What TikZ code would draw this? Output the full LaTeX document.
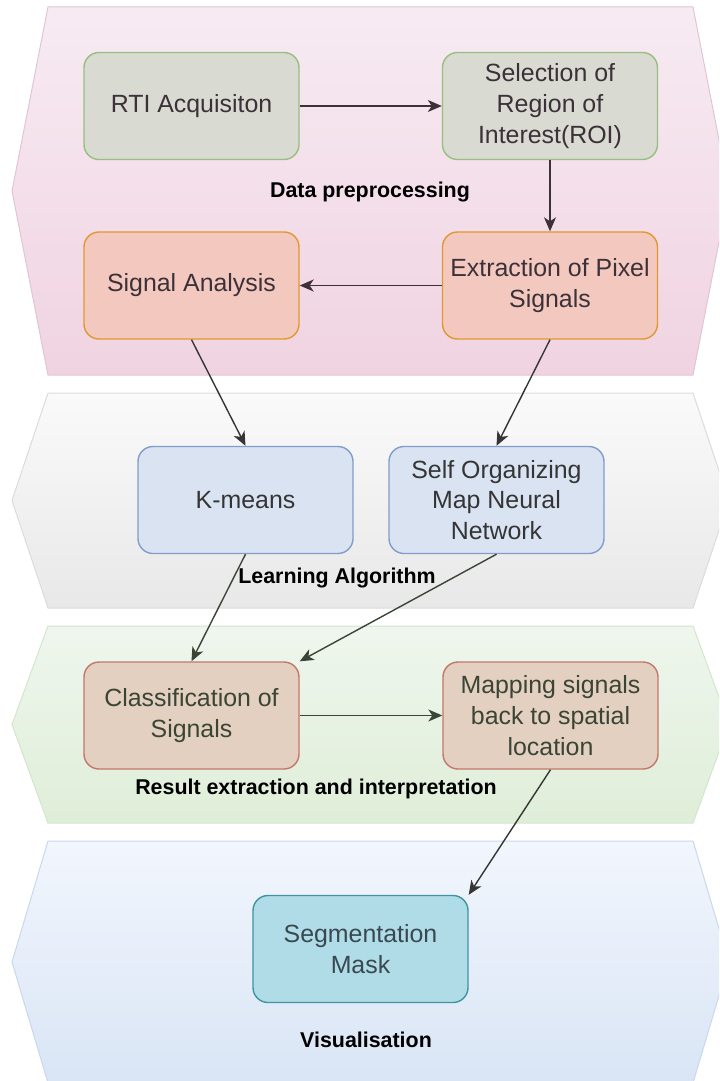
\documentclass[tikz,border=0pt]{standalone}
\usepackage{fontspec}
\setmainfont{Liberation Sans}
\usetikzlibrary{arrows.meta,positioning}

% band and box colours
\definecolor{prepTop}{HTML}{F7EBF2}
\definecolor{prepBot}{HTML}{F0D3E1}
\definecolor{prepLine}{HTML}{E2C5D5}
\definecolor{learnTop}{HTML}{FAFAFA}
\definecolor{learnBot}{HTML}{E8E8E8}
\definecolor{learnLine}{HTML}{DCDCDC}
\definecolor{resTop}{HTML}{EFF6EE}
\definecolor{resBot}{HTML}{DFEED8}
\definecolor{resLine}{HTML}{D2E6CB}
\definecolor{visTop}{HTML}{F2F6FD}
\definecolor{visBot}{HTML}{D9E5F5}
\definecolor{visLine}{HTML}{C9D8EE}
\definecolor{greyFill}{HTML}{D9DAD2}
\definecolor{greyLine}{HTML}{97BF7E}
\definecolor{peachFill}{HTML}{F3C9BF}
\definecolor{peachLine}{HTML}{E0982F}
\definecolor{blueFill}{HTML}{D9E3F2}
\definecolor{blueLine}{HTML}{809DCB}
\definecolor{tanFill}{HTML}{E4D0C0}
\definecolor{tanLine}{HTML}{C4766A}
\definecolor{tealFill}{HTML}{B0DCE7}
\definecolor{tealLine}{HTML}{3F94A2}
\definecolor{inkPlum}{HTML}{3C3139}
\definecolor{inkGrey}{HTML}{353535}
\definecolor{inkMoss}{HTML}{3A4536}
\definecolor{inkSlate}{HTML}{3A4850}

\begin{document}
\begin{tikzpicture}[x=0.5pt,y=-0.5pt,
  stagebox/.style={rounded corners=7.5pt,draw,line width=0.7pt,minimum width=107.5pt,
    minimum height=53.5pt,align=center,inner sep=2pt,font=\fontsize{12.45}{15.3}\selectfont},
  phase/.style={font=\fontsize{10.7}{12.8}\selectfont\bfseries,black},
  flow/.style={-{Stealth[length=7pt,width=6pt,inset=2pt]},line width=0.7pt}]
  \useasboundingbox (0,0) rectangle (719,1081);
  \clip (0,0) rectangle (719,1081);

  % the four phase bands
  \draw[prepLine,line width=0.5pt,top color=prepTop,bottom color=prepBot]
    (48,7) -- (693,7) -- (729,191) -- (693,375) -- (48,375) -- (12,191) -- cycle;
  \draw[learnLine,line width=0.5pt,top color=learnTop,bottom color=learnBot]
    (48,393) -- (693,393) -- (729,500.5) -- (693,608) -- (48,608) -- (12,500.5) -- cycle;
  \draw[resLine,line width=0.5pt,top color=resTop,bottom color=resBot]
    (48,626) -- (693,626) -- (729,724.5) -- (693,823) -- (48,823) -- (12,724.5) -- cycle;
  \draw[visLine,line width=0.5pt,top color=visTop,bottom color=visBot]
    (48,841) -- (693,841) -- (729,962) -- (693,1083) -- (48,1083) -- (12,962) -- cycle;

  \node[phase] (prep) at (370,192) {Data preprocessing};
  \node[phase] (learn) at (337,578) {Learning Algorithm};
  \node[phase] (result) at (316,789) {Result extraction and interpretation};
  \node[phase] (vis) at (366,1040) {Visualisation};

  % steps
  \node[stagebox,fill=greyFill,draw=greyLine,text=inkPlum] (rti) at (191.5,106) {RTI Acquisiton};
  \node[stagebox,fill=greyFill,draw=greyLine,text=inkPlum] (roi) at (550,106)
    {Selection of\\ Region of\\ Interest(ROI)};
  \node[stagebox,fill=peachFill,draw=peachLine,text=inkPlum] (sig) at (191.5,285.5) {Signal Analysis};
  \node[stagebox,fill=peachFill,draw=peachLine,text=inkPlum] (pix) at (550,285.5)
    {Extraction of Pixel\\ Signals};
  \node[stagebox,fill=blueFill,draw=blueLine,text=inkGrey] (kmeans) at (245.5,500) {K-means};
  \node[stagebox,fill=blueFill,draw=blueLine,text=inkGrey] (som) at (496.5,500)
    {Self Organizing\\ Map Neural\\ Network};
  \node[stagebox,fill=tanFill,draw=tanLine,text=inkMoss] (cls) at (191.5,715.5)
    {Classification of\\ Signals};
  \node[stagebox,fill=tanFill,draw=tanLine,text=inkMoss] (map) at (550.5,715.5)
    {Mapping signals\\ back to spatial\\ location};
  \node[stagebox,fill=tealFill,draw=tealLine,text=inkSlate] (mask) at (360.5,949)
    {Segmentation\\ Mask};

  % connectors
  \draw[flow,inkPlum] (rti) -- (roi);
  \draw[flow,inkPlum] (roi) -- (pix);
  \draw[flow,inkPlum] (pix) -- (sig);
  \draw[flow,inkGrey] (sig.south) -- (kmeans.north);
  \draw[flow,inkGrey] (pix.south) -- (som.north);
  \draw[flow,inkMoss] (kmeans.south) -- (cls.north);
  \draw[flow,inkMoss] (som.south) -- (cls.north east);
  \draw[flow,inkMoss] (cls) -- (map);
  \draw[flow,inkGrey] (map.south) -- (mask.north east);
\end{tikzpicture}
\end{document}
